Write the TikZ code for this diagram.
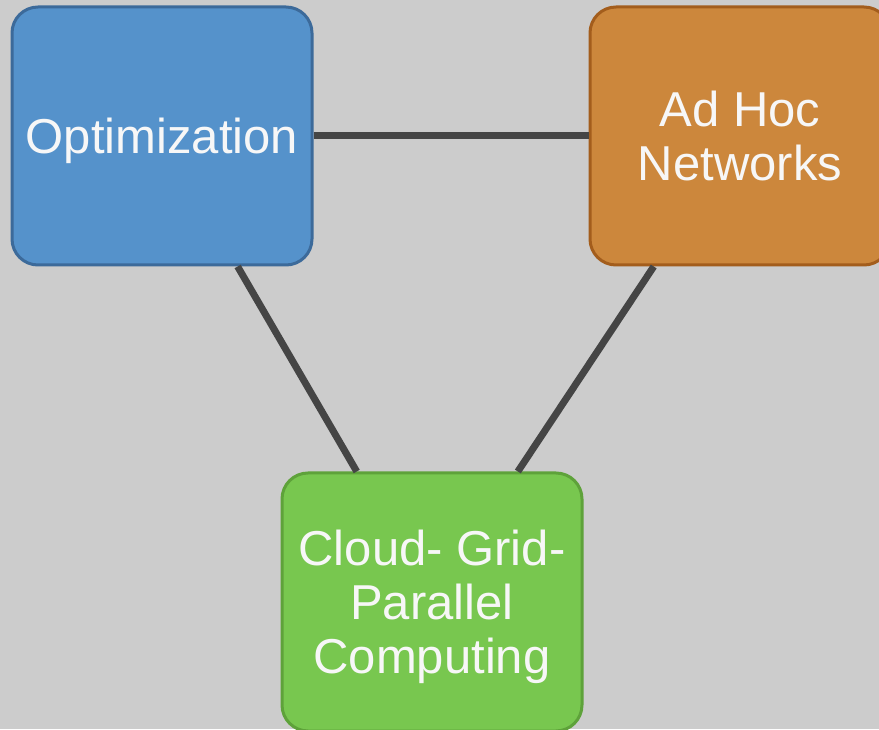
\documentclass[tikz,border=0pt]{standalone}
\usepackage{fontspec}
\setmainfont{Liberation Sans}
\definecolor{bg}{HTML}{CCCCCC}
\definecolor{blueFill}{HTML}{5592CB}
\definecolor{blueLine}{HTML}{3C6A9A}
\definecolor{orangeFill}{HTML}{CC873C}
\definecolor{orangeLine}{HTML}{A35D1C}
\definecolor{greenFill}{HTML}{78C74F}
\definecolor{greenLine}{HTML}{5EA23A}
\definecolor{linkGray}{HTML}{454545}
\definecolor{labelWhite}{HTML}{F7F7F7}
\tikzset{
  topic/.style={rectangle, rounded corners=26pt, line width=3pt,
    minimum width=300pt, minimum height=258pt, inner sep=0pt,
    text=labelWhite, align=center, text depth=0pt,
    font=\fontsize{49}{54}\selectfont},
  link/.style={draw=linkGray, line width=7pt}
}
\begin{document}
\begin{tikzpicture}[x=1pt,y=1pt]
  \useasboundingbox (0,0) rectangle (879,729);
  \clip (0,0) rectangle (879,729);
  \fill[bg] (0,0) rectangle (879,729);
  \node[topic, fill=blueFill, draw=blueLine] (opt) at (162,593) {Optimization};
  \node[topic, fill=orangeFill, draw=orangeLine] (adhoc) at (740,593) {Ad Hoc\\Networks};
  \node[topic, fill=greenFill, draw=greenLine] (cloud) at (432,127) {Cloud- Grid-\\Parallel\\Computing};
  \draw[link] (opt) -- (adhoc);
  \draw[link] (opt) -- (cloud);
  \draw[link] (adhoc) -- (cloud);
\end{tikzpicture}
\end{document}
